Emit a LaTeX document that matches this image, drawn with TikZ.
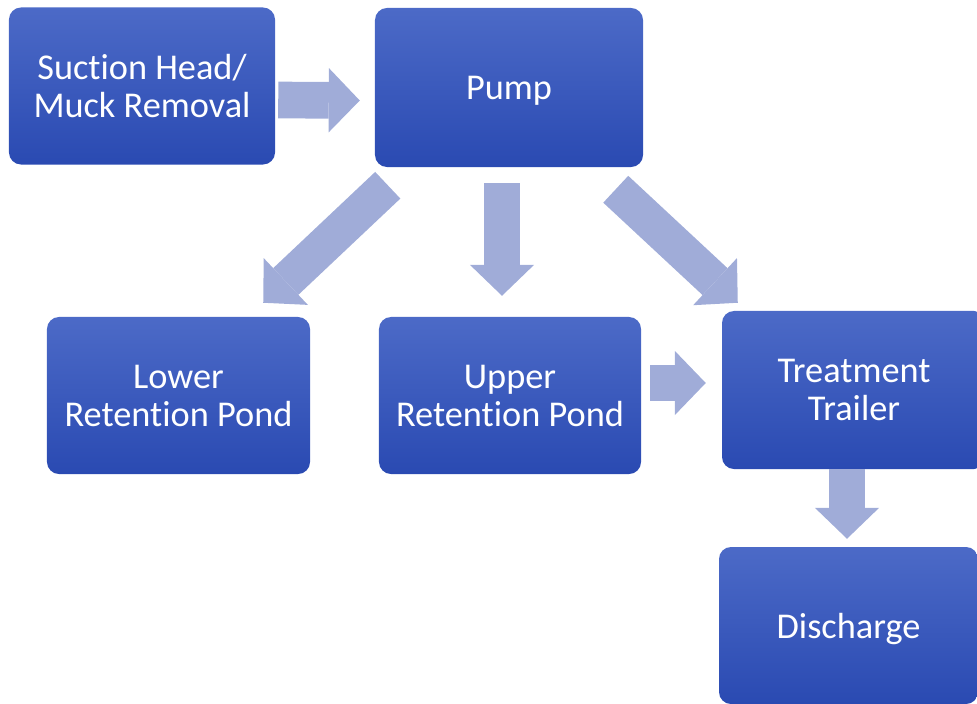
\documentclass[tikz,border=0pt]{standalone}
\usepackage{fontspec}
\setmainfont[Ligatures=NoCommon]{Carlito}
\usetikzlibrary{arrows.meta}

\definecolor{boxtop}{RGB}{76,106,199}
\definecolor{boxbot}{RGB}{42,74,178}
\definecolor{flowblue}{RGB}{160,172,216}

\begin{document}
\begin{tikzpicture}[
  x=0.03cm, y=-0.03cm,
  box/.style={rectangle, rounded corners=0.36cm, align=center, text=white,
    top color=boxtop, bottom color=boxbot, text depth=0pt,
    font=\fontsize{31}{32.5}\selectfont, minimum height=4.71cm, inner sep=0pt},
  fat/.style={draw=flowblue, line width=1.1cm,
    -{Triangle[length=0.93cm, width=1.93cm, line width=0pt]}},
]
\useasboundingbox (0,0) rectangle (977,704);
\clip (0,0) rectangle (977,704);

% === PROCESS BOXES ===
\node[box, minimum width=7.98cm] (suction) at (142,86)    {Suction Head/\\Muck Removal};
\node[box, minimum width=8.04cm, minimum height=4.77cm] (pump) at (509,87.5) {Pump};
\node[box, minimum width=7.89cm] (lower)   at (178.5,395.5) {Lower\\Retention Pond};
\node[box, minimum width=7.86cm] (upper)   at (510,395.5) {Upper\\Retention Pond};
\node[box, minimum width=7.92cm, minimum height=4.74cm] (treat) at (854,390) {Treatment\\Trailer};
\node[box, minimum width=7.77cm] (dis)     at (848.5,625.5) {Discharge};

% === FLOW ARROWS ===
\draw[fat] ([shift={(3,14)}]suction.east) -- ([shift={(-15,13)}]pump.west);
\draw[fat] ([shift={(13,18)}]pump.south west) -- ([shift={(-47,-14)}]lower.north east);
\draw[fat] ([shift={(-7,16)}]pump.south) -- ([shift={(-8,-21)}]upper.north);
\draw[fat] ([shift={(-27.5,22)}]pump.south east) -- ([shift={(16,-8)}]treat.north west);
\draw[fat] ([shift={(9,-12.5)}]upper.east) -- ([shift={(-16,-7)}]treat.west);
\draw[fat] ([shift={(-7,0)}]treat.south) -- ([shift={(-1.5,-8)}]dis.north);
\end{tikzpicture}
\end{document}
